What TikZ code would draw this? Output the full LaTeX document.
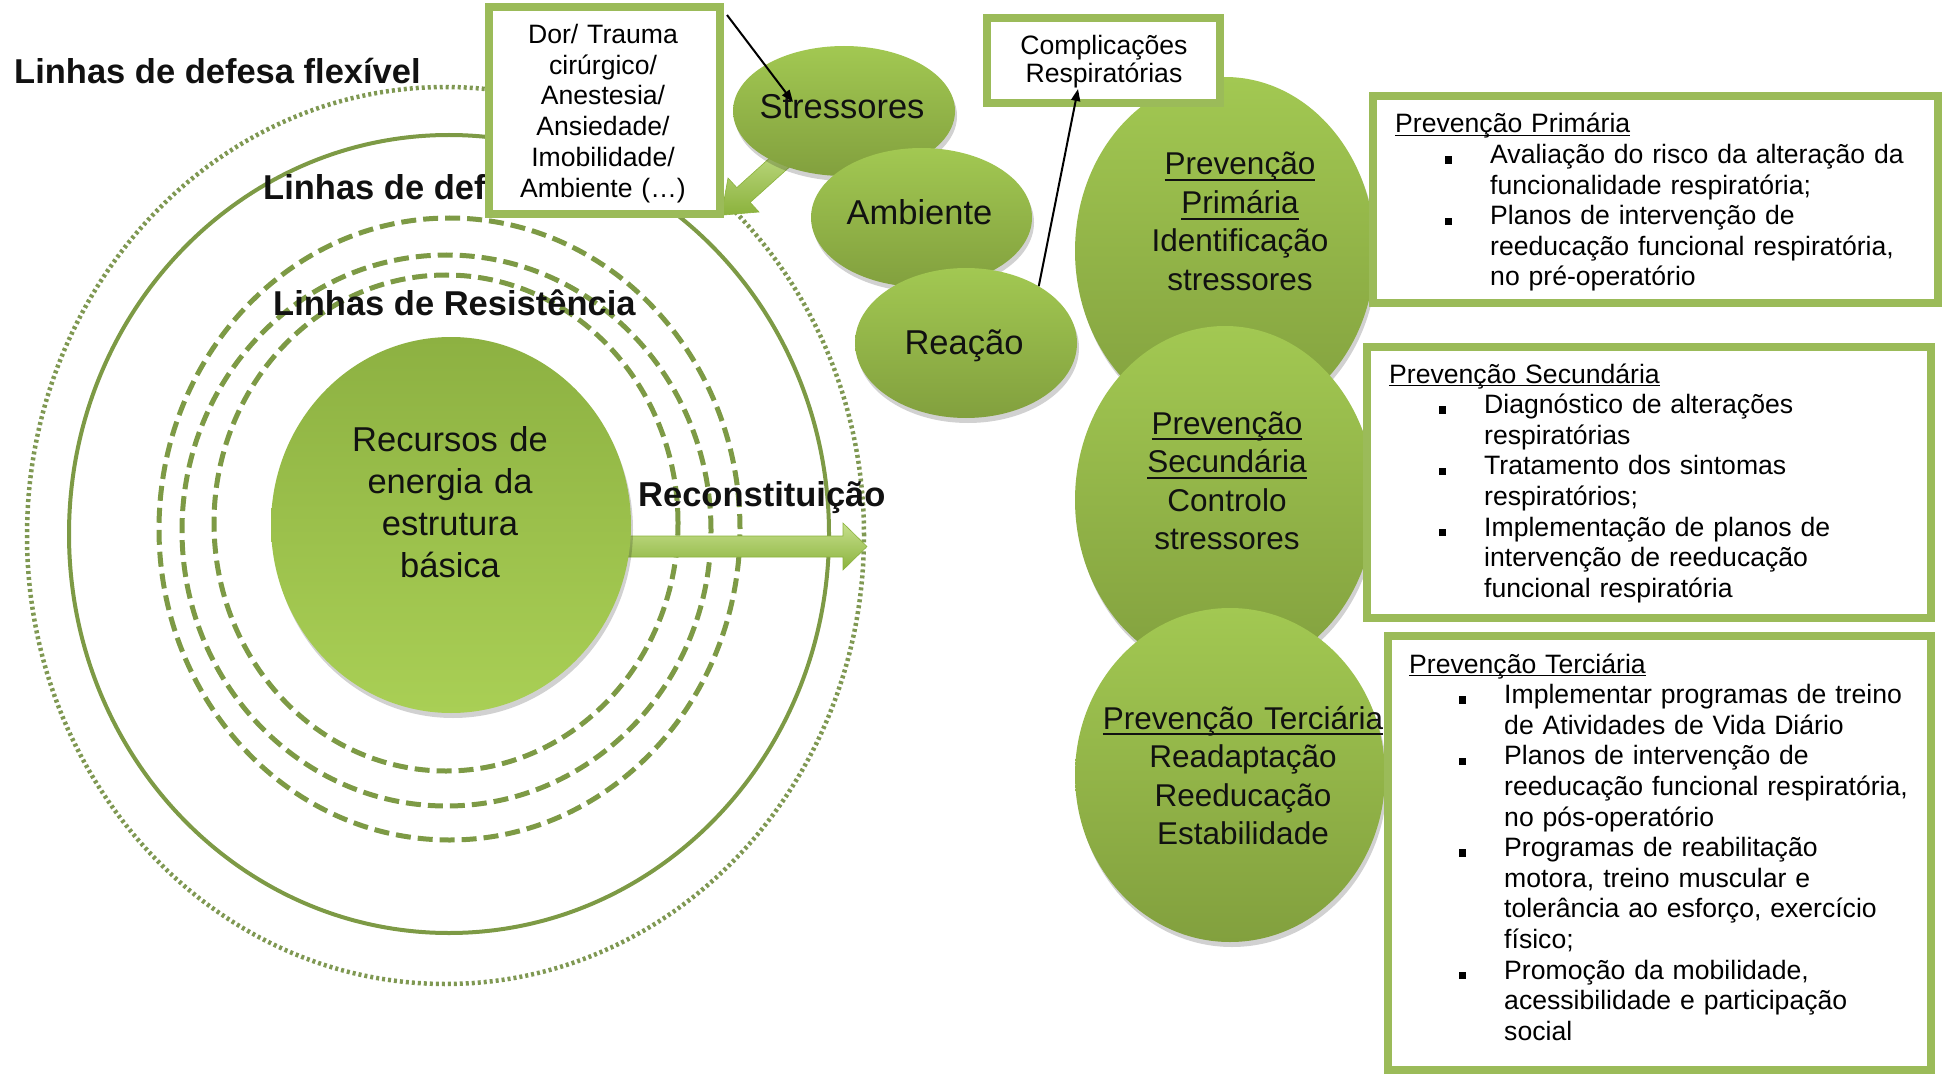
\documentclass[tikz,border=0pt]{standalone}
\usepackage{fontspec}
\setmainfont{Liberation Sans}
\usepackage{enumitem}
\usetikzlibrary{arrows.meta,calc,shapes.geometric,shadows}
\definecolor{ink}{HTML}{111111}
\definecolor{ringgreen}{HTML}{7D9A45}
\definecolor{ringdot}{HTML}{7F9852}
\definecolor{framegreen}{HTML}{9BBB59}
\definecolor{bubbletop}{HTML}{A2C852}
\definecolor{bubblebottom}{HTML}{82A03E}
\definecolor{coretop}{HTML}{8DB142}
\definecolor{corebottom}{HTML}{A9CF55}
\definecolor{arrowtop}{HTML}{C6E08C}
\definecolor{arrowbottom}{HTML}{8BB23D}

\newcommand{\ulword}[2][0.13em]{\leavevmode\setbox0=\hbox{#2}\rlap{\rule[-#1]{\wd0}{0.07em}}\box0}
\newcommand{\sqbullet}{\rule{0.27em}{0.27em}}
\setlist[itemize]{nosep, leftmargin=95pt, labelwidth=7pt, labelsep=38pt, label=\sqbullet}

\begin{document}
\begin{tikzpicture}[
  x=1pt, y=-1pt,
  >={Triangle[length=12pt, width=9pt]},
  heading/.style={font=\bfseries\fontsize{34.5}{42}\selectfont, text=ink, inner sep=0pt, anchor=base west},
  dotring/.style={draw=ringdot, line width=4.5pt, dash pattern=on 3pt off 3pt},
  solidring/.style={draw=ringgreen, line width=4pt},
  dashring/.style={draw=ringgreen, line width=5pt, dash pattern=on 15pt off 7pt},
  glow/.style={drop shadow={shadow xshift=2pt, shadow yshift=-5pt, opacity=0.18, fill=black}},
  core/.style={ellipse, inner sep=0pt, top color=coretop, bottom color=corebottom, glow},
  bubble/.style={ellipse, inner sep=0pt, top color=bubbletop, bottom color=bubblebottom, glow},
  blockarrow/.style={top color=arrowtop, bottom color=arrowbottom, draw=arrowbottom, line width=0.6pt},
  panel/.style={draw=framegreen, line width=7.5pt, fill=white, inner sep=0pt, outer sep=0pt},
  bigtext/.style={font=\fontsize{34.5}{42}\selectfont, text=ink, inner sep=0pt, align=center},
  midtext/.style={font=\fontsize{31.5}{38.5}\selectfont, text=ink, inner sep=0pt, align=center,
    text width=330pt, anchor=base},
  boxtext/.style={font=\fontsize{26.6}{30.6}\selectfont, text=black, inner sep=0pt},
  listtext/.style={boxtext, align=left, anchor=base west},
  link/.style={->, draw=black, line width=2pt}
]
\useasboundingbox (0,0) rectangle (1943,1075);

% ---------------------------------------------------------------------------
% lines of defence and resistance round the basic structure
% ---------------------------------------------------------------------------
\draw[dotring] (445.5,535.5) ellipse [x radius=418.5pt, y radius=448.5pt];
\draw[solidring] (449,534) ellipse [x radius=380pt, y radius=399pt];
\draw[dashring] (449.5,529) ellipse [x radius=290.5pt, y radius=311pt];
\draw[dashring] (446.5,530.5) ellipse [x radius=264.5pt, y radius=275.5pt];
\draw[dashring] (446,523) ellipse [x radius=232pt, y radius=248pt];

\draw[blockarrow] (620,536) -- (843,536) -- (843,523) -- (867,546.5) -- (843,570) -- (843,557) -- (620,557) -- cycle;
\node[core, minimum width=360pt, minimum height=376pt] (core) at (451,525) {};
\node[bigtext, text width=260pt, anchor=base] (coretxt) at (450,451.7) {Recursos de\\energia da\\estrutura\\básica};

\node[heading] (flex) at (14,84) {Linhas de defesa flexível};
\node[heading] (normal) at (263,200) {Linhas de def};
\node[heading] (resist) at (273,316) {Linhas de Resistência};
\node[heading] (recon) at (638,506.7) {Reconstituição};

% ---------------------------------------------------------------------------
% stressors, environment and reaction
% ---------------------------------------------------------------------------
\draw[blockarrow] (805.7,152.4) -- (750.2,202.4) -- (759,212) -- (721.3,215.2) -- (728,178) -- (736.8,187.6) -- (792.3,137.6) -- cycle;
\node[bubble, minimum width=222pt, minimum height=130pt] (stress) at (844,111) {};
\node[bubble, minimum width=221pt, minimum height=139pt] (amb) at (921.5,217.5) {};
\node[bubble, minimum width=222pt, minimum height=150pt] (reac) at (966,343) {};
\node[bigtext, anchor=base] (stresstxt) at (842,119) {Stressores};
\node[bigtext, anchor=base] (ambtxt) at (919.5,225) {Ambiente};
\node[bigtext, anchor=base] (reactxt) at (964,354) {Reação};

\node[panel, minimum width=231pt, minimum height=207pt] (dor) at (604.5,110.5) {};
\node[boxtext, font=\fontsize{26.6}{30.7}\selectfont, text width=230pt, align=center, anchor=base] (dortxt)
  at (603,43.6) {Dor/ Trauma\\cirúrgico/\\Anestesia/\\Ansiedade/\\Imobilidade/\\Ambiente (…)};

% ---------------------------------------------------------------------------
% levels of prevention
% ---------------------------------------------------------------------------
\node[bubble, minimum width=300pt, minimum height=348pt] (prim) at (1225,251) {};
\node[bubble, minimum width=300pt, minimum height=348pt] (sec) at (1225,500) {};
\node[bubble, minimum width=310pt, minimum height=334pt] (terc) at (1230,775) {};
\node[midtext] (primtxt) at (1240,175) {\ulword[0.2em]{Prevenção}\\\ulword[0.2em]{Primária}\\Identificação\\stressores};
\node[midtext] (sectxt) at (1227,434) {\ulword[0.2em]{Prevenção}\\\ulword[0.2em]{Secundária}\\Controlo\\stressores};
\node[midtext] (terctxt) at (1243,729) {\ulword[0.2em]{Prevenção Terciária}\\Readaptação\\Reeducação\\Estabilidade};

\node[panel, minimum width=233pt, minimum height=85pt] (compl) at (1103.5,60.5) {};
\node[boxtext, font=\fontsize{26.6}{28}\selectfont, text width=230pt, align=center, anchor=base] (compltxt)
  at (1104,55) {Complicações\\Respiratórias};

\node[panel, minimum width=565pt, minimum height=207pt] (boxprim) at (1655.5,199.5) {};
\node[listtext, text width=530pt] (listprim) at (1395,133) {\ulword{Prevenção Primária}
  \begin{itemize}
  \item Avaliação do risco da alteração da\newline funcionalidade respiratória;
  \item Planos de intervenção de\newline reeducação funcional respiratória,\newline no pré-operatório
  \end{itemize}};

\node[panel, minimum width=564pt, minimum height=271pt] (boxsec) at (1649,482.5) {};
\node[listtext, text width=530pt] (listsec) at (1389,383) {\ulword{Prevenção Secundária}
  \begin{itemize}
  \item Diagnóstico de alterações\newline respiratórias
  \item Tratamento dos sintomas\newline respiratórios;
  \item Implementação de planos de\newline intervenção de reeducação\newline funcional respiratória
  \end{itemize}};

\node[panel, minimum width=543pt, minimum height=434pt] (boxterc) at (1659.5,853) {};
\node[listtext, text width=516pt] (listterc) at (1409,673) {\ulword{Prevenção Terciária}
  \begin{itemize}
  \item Implementar programas de treino\newline de Atividades de Vida Diário
  \item Planos de intervenção de\newline reeducação funcional respiratória,\newline no pós-operatório
  \item Programas de reabilitação\newline motora, treino muscular e\newline tolerância ao esforço, exercício\newline físico;
  \item Promoção da mobilidade,\newline acessibilidade e participação\newline social
  \end{itemize}};

% connectors
\coordinate (dortail) at ($(dor.north east)+(7,8)$);
\coordinate (stresshead) at ($(stress.center)+(-51,-9)$);
\coordinate (complhead) at ($(compl.center)+(-25.5,28.5)$);
\draw[link] (dortail) -- (stresshead);
\draw[link] (reac.38) -- (complhead);

\end{tikzpicture}
\end{document}
